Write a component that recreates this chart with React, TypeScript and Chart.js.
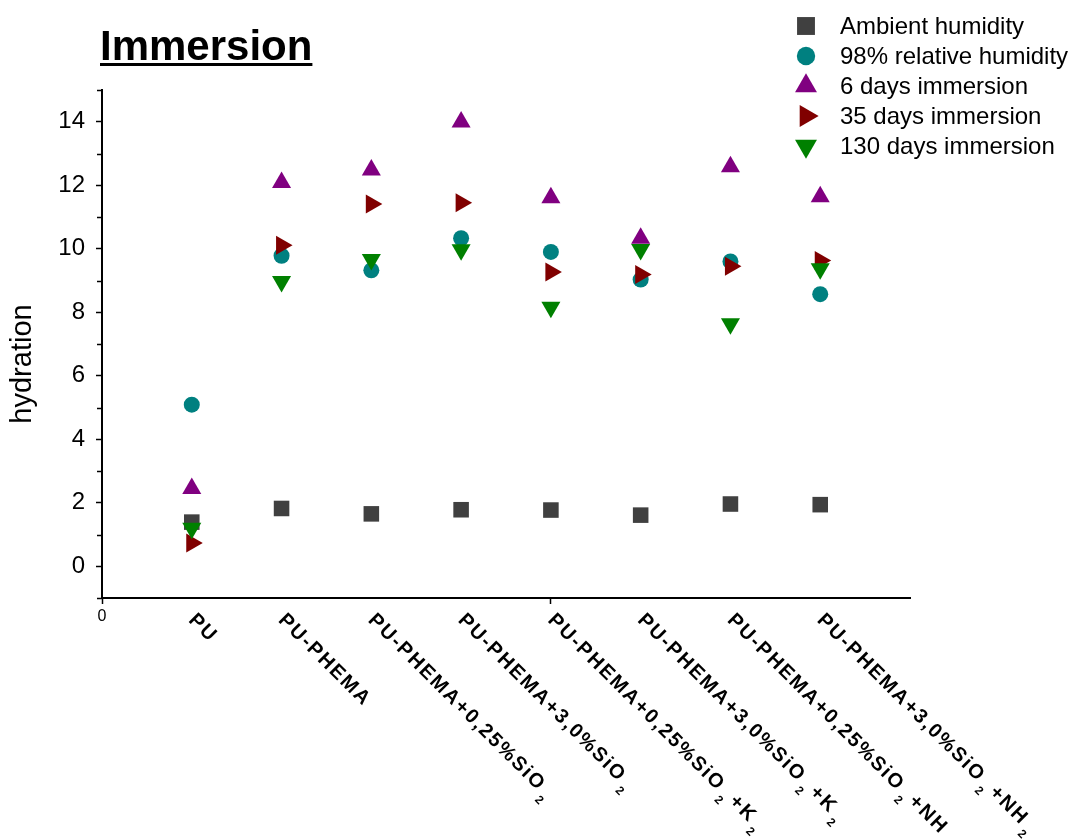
import React, { useEffect, useRef } from 'react';
import { Chart, registerables } from 'chart.js';

Chart.register(...registerables);

const categories = [
  'PU',
  'PU-PHEMA',
  'PU-PHEMA+0,25%SiO₂',
  'PU-PHEMA+3,0%SiO₂',
  'PU-PHEMA+0,25%SiO₂+K₂',
  'PU-PHEMA+3,0%SiO₂+K₂',
  'PU-PHEMA+0,25%SiO₂+NH₂',
  'PU-PHEMA+3,0%SiO₂+NH₂',
];

const seriesNames = [
  'Ambient humidity',
  '98% relative humidity',
  '6 days immersion',
  '35 days immersion',
  '130 days immersion',
];

const ambientHumidity = [1.39, 1.82, 1.65, 1.78, 1.77, 1.61, 1.96, 1.94];
const relativeHumidity98 = [5.09, 9.78, 9.32, 10.33, 9.9, 9.03, 9.6, 8.57];
const immersion6Days = [2.45, 12.09, 12.48, 13.99, 11.61, 10.33, 12.58, 11.64];
const immersion35Days = [0.73, 10.11, 11.41, 11.45, 9.27, 9.19, 9.45, 9.63];
const immersion130Days = [1.2, 8.97, 9.66, 9.97, 8.16, 9.98, 7.64, 9.37];

const yTickValues = [-1, 0, 1, 2, 3, 4, 5, 6, 7, 8, 9, 10, 11, 12, 13, 14, 15];
const xTickValues = [0, 5];

const FONT = "'Liberation Sans', Arial, sans-serif";

const styles = [
  { color: '#404040', pointStyle: 'rect', radius: 11, rotation: 0 },
  { color: '#008080', pointStyle: 'circle', radius: 8, rotation: 0 },
  { color: '#800080', pointStyle: 'triangle', radius: 11, rotation: 0 },
  { color: '#800000', pointStyle: 'triangle', radius: 11, rotation: 90 },
  { color: '#008000', pointStyle: 'triangle', radius: 11, rotation: 180 },
];

function drawMarker(ctx: CanvasRenderingContext2D, style: any, x: number, y: number, r: number) {
  ctx.save();
  ctx.fillStyle = style.color;
  ctx.beginPath();
  if (style.pointStyle === 'rect') {
    const s = Math.SQRT1_2 * r;
    ctx.rect(x - s, y - s, 2 * s, 2 * s);
  } else if (style.pointStyle === 'circle') {
    ctx.arc(x, y, r, 0, Math.PI * 2);
  } else {
    let rad = (style.rotation * Math.PI) / 180;
    for (let k = 0; k < 3; k++) {
      const px = x + Math.sin(rad) * r;
      const py = y - Math.cos(rad) * r;
      if (k === 0) ctx.moveTo(px, py);
      else ctx.lineTo(px, py);
      rad += (2 * Math.PI) / 3;
    }
    ctx.closePath();
  }
  ctx.fill();
  ctx.restore();
}

const decorPlugin = {
  id: 'decor',
  afterDraw(chart: any) {
    const ctx: any = chart.ctx;
    const xs = chart.scales.x;
    const ys = chart.scales.y;
    const area = chart.chartArea;

    // minor y ticks
    ctx.save();
    ctx.strokeStyle = '#000';
    ctx.lineWidth = 1.5;
    yTickValues.forEach((v) => {
      if (Math.abs(v % 2) === 1) {
        const py = Math.round(ys.getPixelForValue(v)) + 0.5;
        ctx.beginPath();
        ctx.moveTo(area.left - 5, py);
        ctx.lineTo(area.left, py);
        ctx.stroke();
      }
    });
    ctx.restore();

    // y axis title
    ctx.save();
    ctx.translate(31, 364);
    ctx.rotate(-Math.PI / 2);
    ctx.font = `29px ${FONT}`;
    ctx.fillStyle = '#000';
    ctx.textAlign = 'center';
    ctx.textBaseline = 'alphabetic';
    ctx.fillText('hydration', 0, 0);
    ctx.restore();

    // rotated category labels
    categories.forEach((label, i) => {
      const px = xs.getPixelForValue(i + 1);
      ctx.save();
      ctx.translate(px + 7, area.bottom + 12);
      ctx.rotate(Math.PI / 4);
      ctx.fillStyle = '#000';
      ctx.textBaseline = 'top';
      ctx.textAlign = 'left';
      let cx = 0;
      const parts = label.split(/(₂)/).filter((p) => p.length > 0);
      parts.forEach((p) => {
        if (p === '₂') {
          ctx.letterSpacing = '0px';
          ctx.font = `bold 12px ${FONT}`;
          cx += 3;
          ctx.fillText('2', cx, 15);
          cx += ctx.measureText('2').width + 5;
        } else {
          ctx.letterSpacing = '1.9px';
          ctx.font = `bold 20px ${FONT}`;
          ctx.fillText(p, cx, 0);
          cx += ctx.measureText(p).width;
        }
      });
      ctx.restore();
    });

    // title
    ctx.save();
    ctx.font = `bold 42px ${FONT}`;
    ctx.fillStyle = '#000';
    ctx.textBaseline = 'alphabetic';
    ctx.textAlign = 'left';
    const title = 'Immersion';
    ctx.fillText(title, 100, 60);
    const tw = ctx.measureText(title).width;
    ctx.fillRect(100, 63, tw, 3);
    ctx.restore();

    // legend
    ctx.save();
    ctx.font = `24px ${FONT}`;
    ctx.textBaseline = 'middle';
    ctx.textAlign = 'left';
    seriesNames.forEach((name, i) => {
      const ly = 26 + i * 30;
      const st = styles[i];
      drawMarker(ctx, st, 806, ly, st.radius * 1.15);
      ctx.fillStyle = '#000';
      ctx.fillText(name, 840, ly + 1);
    });
    ctx.restore();
  },
};

export default function App() {
  const ref = useRef<HTMLCanvasElement | null>(null);

  useEffect(() => {
    const canvas = ref.current;
    if (!canvas) return;
    const seriesValues = [ambientHumidity, relativeHumidity98, immersion6Days, immersion35Days, immersion130Days];
    const datasets = seriesValues.map((vals, si) => ({
      label: seriesNames[si],
      data: vals.map((v, i) => ({ x: i + 1, y: v })),
      pointStyle: styles[si].pointStyle,
      pointRadius: styles[si].radius,
      pointRotation: styles[si].rotation,
      backgroundColor: styles[si].color,
      borderColor: styles[si].color,
      pointBorderWidth: 0,
      borderWidth: 0,
      showLine: false,
      order: 5 - si,
    }));

    const chart = new Chart(canvas, {
      type: 'scatter',
      data: { datasets: datasets as any },
      options: {
        responsive: false,
        animation: false,
        devicePixelRatio: 1,
        layout: { padding: { top: 90, right: 159, left: 0, bottom: 0 } },
        plugins: {
          legend: { display: false },
          title: { display: false },
          tooltip: { enabled: false },
        },
        scales: {
          x: {
            type: 'linear',
            min: 0,
            max: 9,
            afterBuildTicks: (s: any) => {
              s.ticks = xTickValues.map((v) => ({ value: v }));
            },
            afterFit: (s: any) => {
              s.height = 241;
            },
            ticks: {
              autoSkip: false,
              maxRotation: 0,
              padding: 3,
              color: '#000',
              font: { family: FONT, size: 16 },
              callback: (v: any) => (v === 0 ? '0' : ''),
            },
            grid: {
              display: true,
              drawOnChartArea: false,
              drawTicks: true,
              tickLength: 6,
              tickColor: '#000',
              tickWidth: 1.5,
            },
            border: { display: true, color: '#000', width: 2 },
          },
          y: {
            type: 'linear',
            min: -1,
            max: 15,
            afterBuildTicks: (s: any) => {
              s.ticks = yTickValues.map((v) => ({ value: v }));
            },
            afterFit: (s: any) => {
              s.width = 102;
            },
            title: { display: false },
            ticks: {
              autoSkip: false,
              padding: 11,
              color: '#000',
              font: { family: FONT, size: 24 },
              callback: (v: any) => (Math.abs(v % 2) === 0 ? String(v) : ''),
            },
            grid: {
              display: true,
              drawOnChartArea: false,
              drawTicks: true,
              tickLength: 6,
              tickWidth: 1.5,
              tickColor: (c: any) => (c.tick && Math.abs(c.tick.value % 2) === 0 ? '#000' : 'rgba(0,0,0,0)'),
            },
            border: { display: true, color: '#000', width: 2 },
          },
        },
      },
      plugins: [decorPlugin],
    });

    return () => chart.destroy();
  }, []);

  return (
    <div style={{ position: 'absolute', left: 0, top: 0, width: 1069, height: 839, background: '#fff' }}>
      <canvas ref={ref} width={1069} height={839} style={{ width: 1069, height: 839, display: 'block' }} />
    </div>
  );
}
